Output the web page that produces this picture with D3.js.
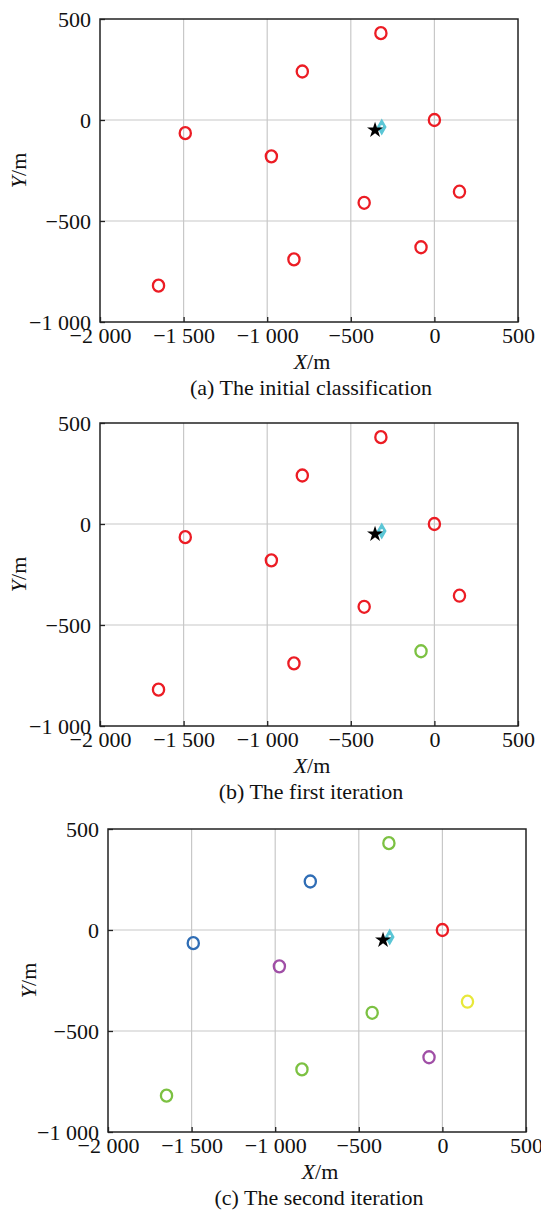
<!DOCTYPE html>
<html><head><meta charset="utf-8">
<script src="https://cdn.jsdelivr.net/npm/d3@7/dist/d3.min.js"></script>
<style>
html,body{margin:0;padding:0;background:#fff;}
svg text{font-family:"Liberation Serif","Times New Roman",serif;fill:#111;}
</style></head>
<body>
<script>
// ---- data ----
const pointsX = [-320, -790, 0, -1490, -975, -420, 150, -80, -840, -1650];
const pointsY = [430, 240, 0, -65, -180, -410, -355, -630, -690, -820];
const classA = ["red","red","red","red","red","red","red","red","red","red"];
const classB = ["red","red","red","red","red","red","red","green","red","red"];
const classC = ["green","blue","red","blue","purple","green","yellow","purple","green","green"];
const starPoint = [-355, -50];
const diamondPoint = [-315, -35];
const xTicks = [-2000, -1500, -1000, -500, 0, 500];
const yTicks = [-1000, -500, 0, 500];
const xTickLabels = ["\u22122 000", "\u22121 500", "\u22121 000", "\u2212500", "0", "500"];
const yTickLabels = ["\u22121 000", "\u2212500", "0", "500"];
const captions = ["(a) The initial classification", "(b) The first iteration", "(c) The second iteration"];
const palette = {red:"#ec1c24", green:"#7cc142", blue:"#2f6db5", purple:"#a04fa6", yellow:"#e8e83a"};

const W = 541, H = 1211;
const FS = 22;
const svg = d3.select("body").append("svg").attr("width", W).attr("height", H);

const panels = [
  {left:100, right:518, top:19, bottom:322, cls:classA, cap:captions[0], ylx:18},
  {left:100, right:518, top:423, bottom:726, cls:classB, cap:captions[1], ylx:18},
  {left:108, right:526, top:829, bottom:1132, cls:classC, cap:captions[2], ylx:28}
];

// cut-off fragment of text above the first panel
svg.append("text").attr("x", 207).attr("y", -5).attr("font-size", FS).attr("text-anchor","middle").text("g");

panels.forEach(p => {
  const x = d3.scaleLinear().domain([-2000, 500]).range([p.left, p.right]);
  const y = d3.scaleLinear().domain([-1000, 500]).range([p.bottom, p.top]);
  const g = svg.append("g");

  // grid
  g.selectAll(".gx").data(xTicks.slice(1, -1)).join("line")
    .attr("x1", d => x(d)).attr("x2", d => x(d)).attr("y1", p.top).attr("y2", p.bottom)
    .attr("stroke", "#c8c8c8").attr("stroke-width", 1.2);
  g.selectAll(".gy").data(yTicks.slice(1, -1)).join("line")
    .attr("y1", d => y(d)).attr("y2", d => y(d)).attr("x1", p.left).attr("x2", p.right)
    .attr("stroke", "#c8c8c8").attr("stroke-width", 1.2);

  // axes with inward ticks
  const xAxis = d3.axisBottom(x).tickValues(xTicks).tickSize(-5).tickPadding(8)
    .tickFormat((d, i) => xTickLabels[i]);
  const yAxis = d3.axisLeft(y).tickValues(yTicks).tickSize(-5).tickPadding(9)
    .tickFormat((d, i) => yTickLabels[i]);
  const ax = g.append("g").attr("transform", `translate(0,${p.bottom})`).call(xAxis);
  const ay = g.append("g").attr("transform", `translate(${p.left},0)`).call(yAxis);
  [ax, ay].forEach(a => {
    a.select(".domain").remove();
    a.selectAll("line").attr("stroke", "#222").attr("stroke-width", 1.3);
    a.selectAll("text").attr("font-size", FS).attr("fill", "#111")
      .style("font-family", '"Liberation Serif",serif');
  });
  ax.selectAll("text").attr("dy", "0.6em");
  ay.selectAll("text").attr("dy", "0.35em");

  // frame
  g.append("rect").attr("x", p.left).attr("y", p.top)
    .attr("width", p.right - p.left).attr("height", p.bottom - p.top)
    .attr("fill", "none").attr("stroke", "#222").attr("stroke-width", 1.5);

  // points
  g.selectAll(".pt").data(pointsX.map((v, i) => ({x: v, y: pointsY[i], c: p.cls[i]}))).join("ellipse")
    .attr("cx", d => x(d.x)).attr("cy", d => y(d.y)).attr("rx", 5.6).attr("ry", 6.0)
    .attr("fill", "none").attr("stroke", d => palette[d.c]).attr("stroke-width", 2.3);

  // diamond + star
  const dx = x(diamondPoint[0]), dy = y(diamondPoint[1]);
  g.append("path").attr("d", d3.symbol(d3.symbolDiamond, 48)())
    .attr("transform", `translate(${dx},${dy})`)
    .attr("fill", "#5bc6d6").attr("stroke", "#5bc6d6").attr("stroke-width", 2);
  g.append("rect").attr("x", dx - 1.2).attr("y", dy - 1.8).attr("width", 2.4).attr("height", 2.4).attr("fill", "#fff");
  g.append("path").attr("d", d3.symbol(d3.symbolStar, 80)())
    .attr("transform", `translate(${x(starPoint[0])},${y(starPoint[1])})`)
    .attr("fill", "#000");

  // labels
  const cx = (p.left + p.right) / 2;
  const xl = g.append("text").attr("x", cx + 3).attr("y", p.bottom + 47).attr("text-anchor", "middle").attr("font-size", FS);
  xl.append("tspan").attr("font-style", "italic").text("X");
  xl.append("tspan").text("/m");
  const cyy = (p.top + p.bottom) / 2;
  const yl = g.append("text").attr("transform", `translate(${p.ylx},${cyy}) rotate(-90)`)
    .attr("text-anchor", "middle").attr("dy", "0.35em").attr("font-size", FS);
  yl.append("tspan").attr("font-style", "italic").text("Y");
  yl.append("tspan").text("/m");
  g.append("text").attr("x", cx + 2).attr("y", p.bottom + 73).attr("text-anchor", "middle")
    .attr("font-size", FS).text(p.cap);
});
</script>
</body></html>
